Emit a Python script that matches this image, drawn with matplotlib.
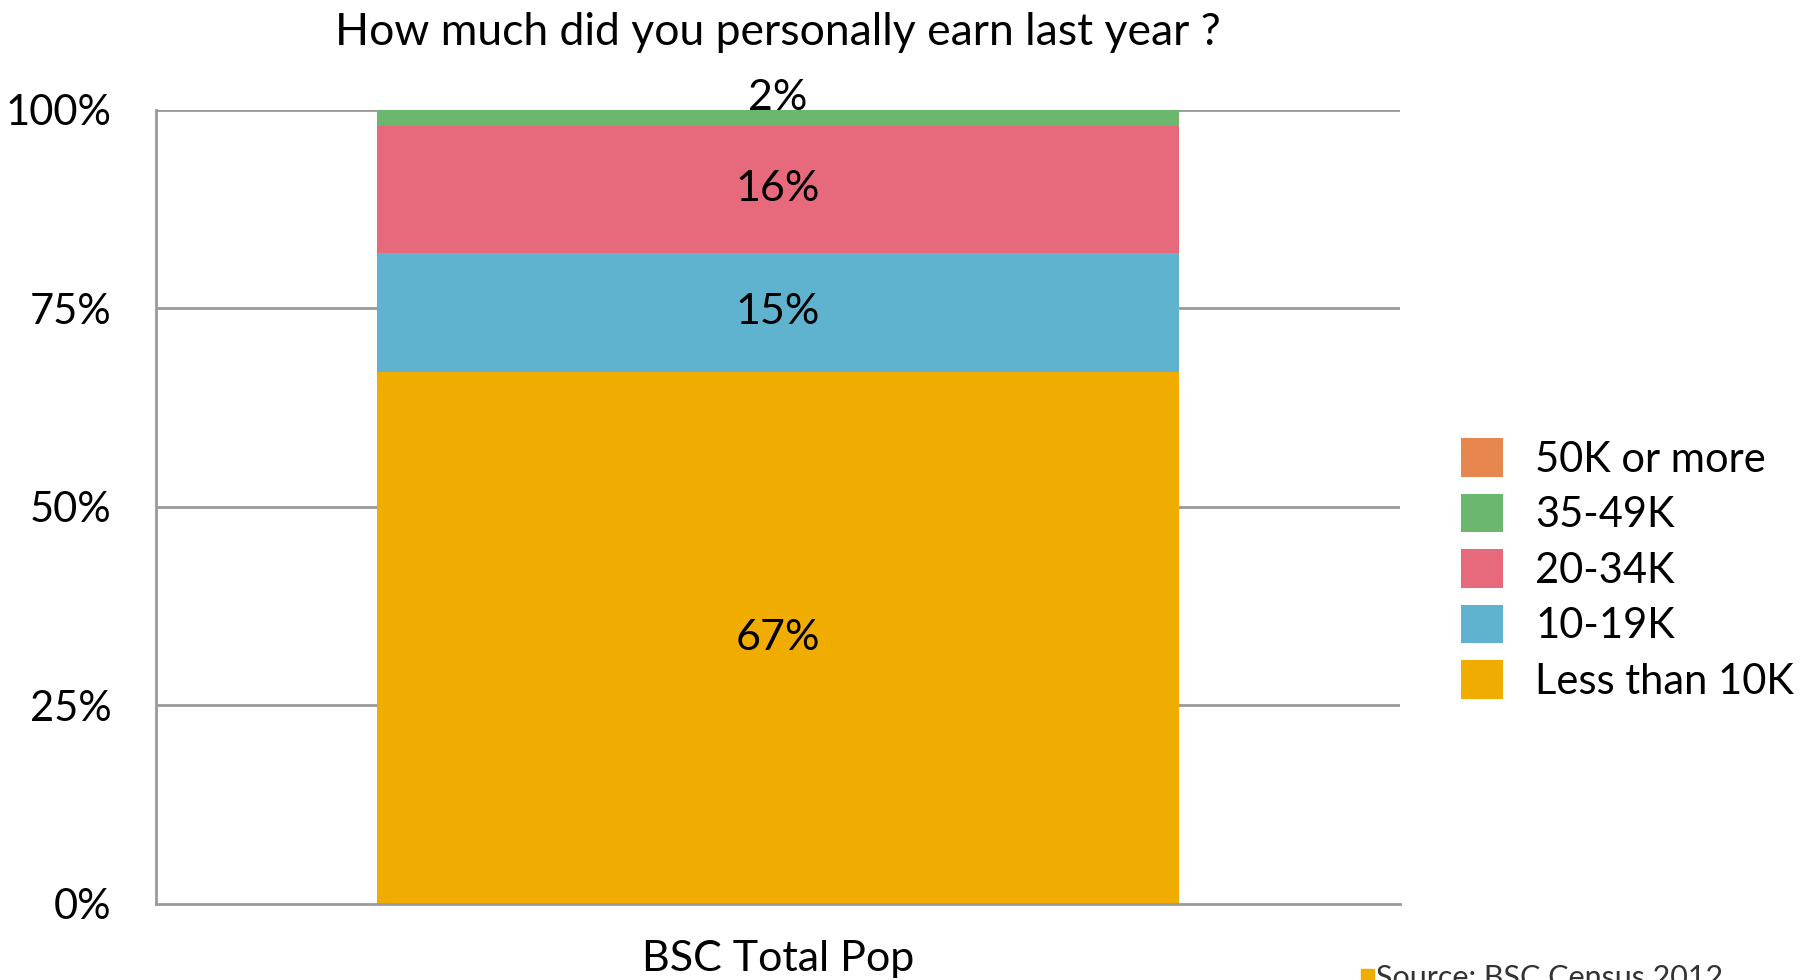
import matplotlib
matplotlib.use("Agg")
import matplotlib.pyplot as plt
from matplotlib.patches import Patch

# Income distribution, BSC Census 2012
category = "BSC Total Pop"
brackets = ["Less than 10K", "10-19K", "20-34K", "35-49K", "50K or more"]
shares = [67, 15, 16, 2, 0]
colors = ["#F0AD00", "#5FB3CE", "#E66A7C", "#6CB76E", "#E8864F"]
yticks = [0, 25, 50, 75, 100]
ytick_labels = ["0%", "25%", "50%", "75%", "100%"]

plt.rcParams["font.family"] = ["Lato", "DejaVu Sans"]
plt.rcParams["text.color"] = "black"

fig = plt.figure(figsize=(18.04, 9.8), dpi=100)
ax = fig.add_axes([0.0865, 0.0776, 0.6895, 0.8102])

grid_color = "#9A9A9A"
for y in yticks[1:]:
    ax.axhline(y, color=grid_color, lw=2, zorder=0)

bottom = 0
for name, val, col in zip(brackets, shares, colors):
    if val > 0:
        ax.bar(0, val, width=1.0, bottom=bottom, color=col, zorder=2, linewidth=0)
        if val >= 5:
            ax.text(0, bottom + val / 2, f"{val}%", ha="center", va="center",
                    fontsize=31, color="black", zorder=3)
        else:
            ax.text(0, bottom + val, f"{val}%", ha="center", va="baseline",
                    fontsize=31, color="black", zorder=3)
    bottom += val

ax.set_xlim(-0.776, 0.776)
ax.set_ylim(0, 100)
ax.set_yticks(yticks)
ax.set_yticklabels(ytick_labels, fontsize=30, color="black")
ax.set_xticks([0])
ax.set_xticklabels([category], fontsize=31, color="black")
ax.tick_params(axis="y", length=0, pad=32)
ax.tick_params(axis="x", length=0, pad=26)
for side in ["top", "right"]:
    ax.spines[side].set_visible(False)
for side in ["left", "bottom"]:
    ax.spines[side].set_color(grid_color)
    ax.spines[side].set_linewidth(2)

fig.suptitle("How much did you personally earn last year ?", x=0.431, y=0.988,
             va="top", fontsize=32, color="black")

handles = [Patch(facecolor=c, edgecolor="none", label=b)
           for b, c in zip(brackets[::-1], colors[::-1])]
fig.legend(handles=handles, loc="upper left", bbox_to_anchor=(0.81, 0.553),
           frameon=False, handlelength=1.0, handleheight=1.05,
           handletextpad=0.78, labelspacing=0.36, borderpad=0, borderaxespad=0,
           prop={"size": 30})

# Source note along the bottom edge
fig.patches.append(plt.Rectangle((0.7545, -0.002), 0.0072, 0.013,
                                 transform=fig.transFigure, color="#F0AD00"))
fig.text(0.7625, -0.012, "Source: BSC Census 2012", fontsize=22,
         color="#333333", va="bottom")

fig.savefig("out.png", dpi=100)
